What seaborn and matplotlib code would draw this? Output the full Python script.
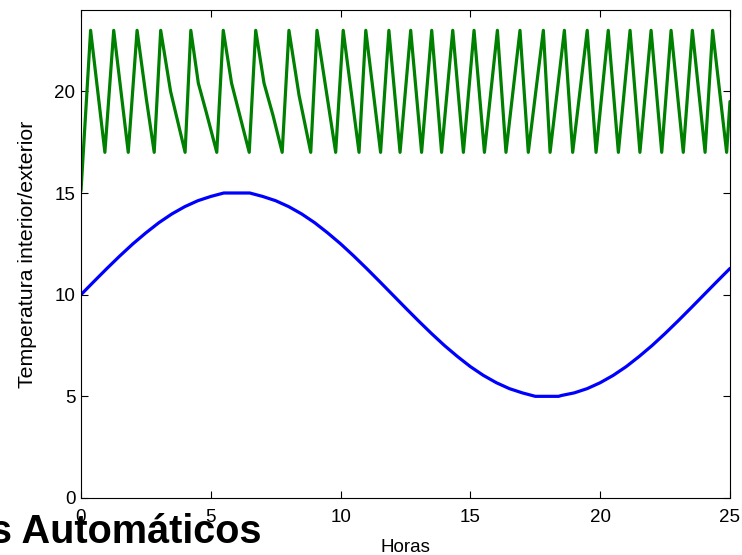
import matplotlib
matplotlib.use("Agg")
import matplotlib.pyplot as plt
import seaborn as sns
import pandas as pd

# Exterior temperature (blue)
t_ext = [0, 0.5, 1, 1.5, 2, 2.5, 3, 3.5, 4, 4.5, 5, 5.5, 6, 6.5, 7, 7.5, 8, 8.5, 9, 9.5,
         10, 10.5, 11, 11.5, 12, 12.5, 13, 13.5, 14, 14.5, 15, 15.5, 16, 16.5, 17, 17.5,
         18, 18.4, 18.5, 19, 19.5, 20, 20.5, 21, 21.5, 22, 22.5, 23, 23.5, 24, 24.5, 25]
temp_ext = [10.0, 10.65, 11.29, 11.91, 12.5, 13.04, 13.54, 13.97, 14.33, 14.62, 14.83, 15.0,
            15.0, 15.0, 14.83, 14.62, 14.33, 13.97, 13.54, 13.04, 12.5, 11.91, 11.29, 10.65,
            10.0, 9.35, 8.71, 8.09, 7.5, 6.96, 6.46, 6.03, 5.67, 5.38, 5.17, 5.0, 5.0, 5.0,
            5.04, 5.17, 5.38, 5.67, 6.03, 6.46, 6.96, 7.5, 8.09, 8.71, 9.35, 10.0, 10.65, 11.29]

# Interior temperature (green), thermostat peaks/troughs
t_int = [0, 0.37, 0.92, 1.26, 1.82, 2.16, 2.52, 2.82, 3.07, 3.45, 4.01, 4.23, 4.52, 4.84, 5.23,
         5.48, 5.80, 6.10, 6.48, 6.73, 7.05, 7.40, 7.75, 8.01, 8.40, 8.85, 9.09, 9.81,
         10.10, 10.71, 10.97, 11.54, 11.86, 12.29, 12.70,
         13.12, 13.51, 13.89, 14.32, 14.73, 15.14, 15.54, 16.04, 16.37, 16.91, 17.23, 17.81,
         18.07, 18.62, 18.94, 19.50, 19.84, 20.31, 20.70, 21.15, 21.53, 21.96, 22.37, 22.73,
         23.20, 23.55, 24.04, 24.33, 24.87, 25.0]
temp_int = [15.1, 23, 17, 23, 17, 23, 19.6, 17, 23, 20.0, 17, 23, 20.4, 18.9, 17,
            23, 20.4, 18.9, 17, 23, 20.4, 18.8, 17, 23, 19.8, 17, 23, 17,
            23, 17, 23, 17, 23, 17, 23,
            17, 23, 17, 23, 17, 23, 17, 23, 17, 23, 17, 23,
            17, 23, 17, 23, 17, 23, 17, 23, 17, 23, 17, 23,
            17, 23, 17, 23, 17, 19.5]

x_ticks = [0, 5, 10, 15, 20, 25]
y_ticks = [0, 5, 10, 15, 20]

sns.set_theme(style="white")
plt.rcParams['font.family'] = ['Liberation Sans', 'DejaVu Sans']
plt.rcParams.update({
    'xtick.direction': 'in', 'ytick.direction': 'in',
    'xtick.top': True, 'ytick.right': True,
    'xtick.bottom': True, 'ytick.left': True,
    'axes.edgecolor': 'black', 'axes.linewidth': 0.8,
})

df_int = pd.DataFrame({'t': t_int, 'T': temp_int})
df_ext = pd.DataFrame({'t': t_ext, 'T': temp_ext})

fig = plt.figure(figsize=(7.42, 5.55), dpi=100)
ax = fig.add_axes([81/742, 1-498/555, (730-81)/742, (498-10)/555])

sns.lineplot(data=df_int, x='t', y='T', ax=ax, color='#008000', linewidth=2.3,
             sort=False, estimator=None)
sns.lineplot(data=df_ext, x='t', y='T', ax=ax, color='#0000FF', linewidth=2.3,
             sort=False, estimator=None)

ax.set_xlim(0, 25)
ax.set_ylim(0, 24)
ax.set_xticks(x_ticks)
ax.set_yticks(y_ticks)
ax.tick_params(axis='both', labelsize=13.5, length=5, width=0.8, color='black',
               labelcolor='black')
ax.tick_params(axis='x', pad=8)
ax.tick_params(axis='y', pad=4)
for s in ax.spines.values():
    s.set_visible(True)
    s.set_color('black')

ax.set_xlabel('Horas', fontsize=13.5, color='black')
ax.xaxis.set_label_coords(0.5, -0.083)
ax.set_ylabel('Temperatura interior/exterior', fontsize=15.3, color='black')
ax.yaxis.set_label_coords(-0.068, 0.5)

fig.text(262/742, 1-543/555, 'Sistemas Automáticos', ha='right', va='baseline',
         fontsize=28.5, fontweight='bold', color='black')

fig.savefig('out.png', dpi=100)
